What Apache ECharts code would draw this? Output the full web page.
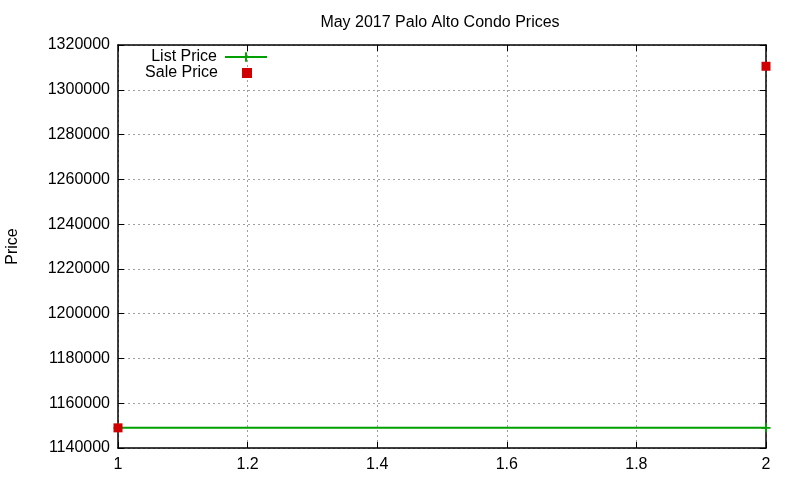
<!DOCTYPE html>
<html><head><meta charset="utf-8">
<script src="https://cdn.jsdelivr.net/npm/echarts@6/dist/echarts.min.js"></script>
<style>html,body{margin:0;padding:0;background:#fff}#c{width:800px;height:480px}</style>
</head><body><div id="c"></div>
<script>
const titleText = 'May 2017 Palo Alto Condo Prices';
const yName = 'Price';
const listPrice = [[1, 1149000], [2, 1149000]];
const salePrice = [[1, 1149000], [2, 1310500]];
const xMin = 1, xMax = 2, xStep = 0.2;
const yMin = 1140000, yMax = 1320000, yStep = 20000;

const plus = 'path://M0,4H4V0H6V4H10V6H6V10H4V6H0Z';
const font = 'Liberation Sans, Arial, sans-serif';
const chart = echarts.init(document.getElementById('c'), null, {renderer: 'canvas'});
const grid = {left: 118, right: 34, top: 45, bottom: 32, containLabel: false, outerBoundsMode: 'none'};
const gridLine = {show: true, lineStyle: {color: '#a0a0a0', type: [2, 3], width: 1}};
const axisLine = {show: true, lineStyle: {color: '#000', width: 1.5}};
const tick = {show: true, inside: true, length: 6, lineStyle: {color: '#000', width: 1}};
chart.setOption({
  animation: false,
  backgroundColor: '#fff',
  title: {text: titleText, left: 435, top: 10, textAlign: 'center',
    textStyle: {fontFamily: font, fontSize: 16, fontWeight: 'normal', color: '#000'}},
  grid: grid,
  legend: [{
    data: [{name: 'List Price'}],
    right: 527, top: 44, align: 'right', itemWidth: 42, itemHeight: 12, itemGap: 4,
    textStyle: {fontFamily: font, fontSize: 16, color: '#000', padding: [0, 3, 0, 0]}
  }, {
    data: [{name: 'Sale Price', icon: 'rect'}],
    right: 543, top: 60, align: 'right', itemWidth: 10, itemHeight: 10,
    itemStyle: {opacity: 1},
    textStyle: {fontFamily: font, fontSize: 16, color: '#000', padding: [0, 19, 0, 0]}
  }],
  xAxis: [{
    type: 'value', min: xMin, max: xMax, interval: xStep,
    axisLine: axisLine, axisTick: tick, splitLine: gridLine,
    axisLabel: {color: '#000', fontFamily: font, fontSize: 16, margin: 9,
      formatter: v => String(Math.round(v * 10) / 10)}
  }, {
    type: 'value', position: 'top', min: xMin, max: xMax, interval: xStep,
    axisLine: axisLine, axisTick: tick, splitLine: {show: false}, axisLabel: {show: false}
  }],
  yAxis: [{
    type: 'value', min: yMin, max: yMax, interval: yStep,
    name: yName, nameLocation: 'middle', nameGap: 97, nameRotate: 90,
    nameTextStyle: {fontFamily: font, fontSize: 16, color: '#000'},
    axisLine: axisLine, axisTick: tick, splitLine: gridLine,
    axisLabel: {color: '#000', fontFamily: font, fontSize: 16, margin: 8,
      formatter: v => String(Math.round(v))}
  }, {
    type: 'value', position: 'right', min: yMin, max: yMax, interval: yStep,
    axisLine: axisLine, axisTick: tick, splitLine: {show: false}, axisLabel: {show: false}
  }],
  series: [{
    name: 'List Price', type: 'line', data: listPrice,
    symbol: plus, symbolSize: 9, showSymbol: true,
    lineStyle: {color: '#00a000', width: 2, opacity: 1}, itemStyle: {color: '#00a000', opacity: 1},
    clip: false, z: 3
  }, {
    name: 'Sale Price', type: 'scatter', data: salePrice,
    symbol: 'rect', symbolSize: 9, itemStyle: {color: '#d00000', opacity: 1}, clip: false, z: 4
  }]
});
</script></body></html>
